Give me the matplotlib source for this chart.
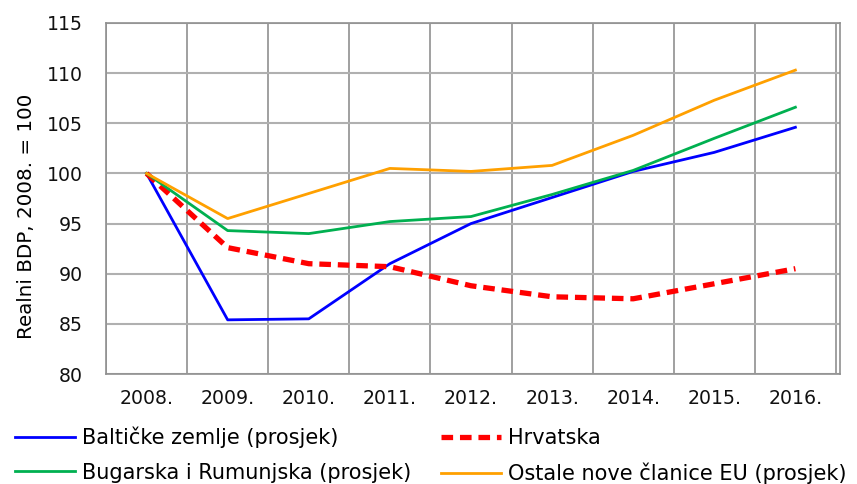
import numpy as np
import matplotlib.pyplot as plt

plt.rcParams['font.family'] = ['DejaVu Sans']

years = ['2008.', '2009.', '2010.', '2011.', '2012.', '2013.', '2014.', '2015.', '2016.']
baltic = [100.0, 85.4, 85.5, 91.0, 95.0, 97.6, 100.2, 102.1, 104.6]
croatia = [100.0, 92.6, 91.0, 90.7, 88.8, 87.7, 87.5, 89.0, 90.5]
bg_ro = [100.0, 94.3, 94.0, 95.2, 95.7, 97.9, 100.3, 103.5, 106.6]
other_nms = [100.0, 95.5, 98.0, 100.5, 100.2, 100.8, 103.8, 107.3, 110.3]

fig = plt.figure(figsize=(8.57, 4.84), dpi=100)
ax = fig.add_axes([106/857, 1 - 374/484, 734/857, 351/484])

x = np.arange(len(years))
l1, = ax.plot(x, baltic, color='#0000FF', lw=2.0, label='Baltičke zemlje (prosjek)')
l2, = ax.plot(x, croatia, color='#FF0000', lw=3.8, ls=(0, (2.2, 1.3)), label='Hrvatska')
l3, = ax.plot(x, bg_ro, color='#00B050', lw=2.0, label='Bugarska i Rumunjska (prosjek)')
l4, = ax.plot(x, other_nms, color='#FFA000', lw=2.0, label='Ostale nove članice EU (prosjek)')

ax.set_xlim(-0.5, len(years) - 0.45)
ax.set_ylim(80, 115)
ax.set_yticks(np.arange(80, 116, 5))
ax.set_xticks(x)
ax.set_xticklabels(years)
ax.set_xticks(np.arange(-0.5, len(years), 1), minor=True)
ax.grid(True, which='minor', axis='x', color='#909090', lw=1.2)
ax.grid(True, which='major', axis='y', color='#b0b0b0', lw=1.5)
ax.set_axisbelow(True)
ax.tick_params(axis='both', which='both', length=0, labelsize=13.6, colors='#111111')
ax.tick_params(axis='x', pad=11)
ax.tick_params(axis='y', pad=17)
for s in ax.spines.values():
    s.set_color('#909090')
    s.set_linewidth(1.2)
ax.set_ylabel('Realni BDP, 2008. = 100', fontsize=14.3)
ax.yaxis.set_label_coords(-0.096, 0.45)

# row-wise order: column-first fill in matplotlib
fig.legend(handles=[l1, l3, l2, l4], ncol=2, loc='upper left',
           bbox_to_anchor=(15/857, 1 - 427/484), frameon=False, fontsize=15,
           handlelength=2.9, handletextpad=0.33, columnspacing=1.4,
           labelspacing=0.68, borderpad=0, borderaxespad=0)

fig.savefig('out.png', dpi=100)
